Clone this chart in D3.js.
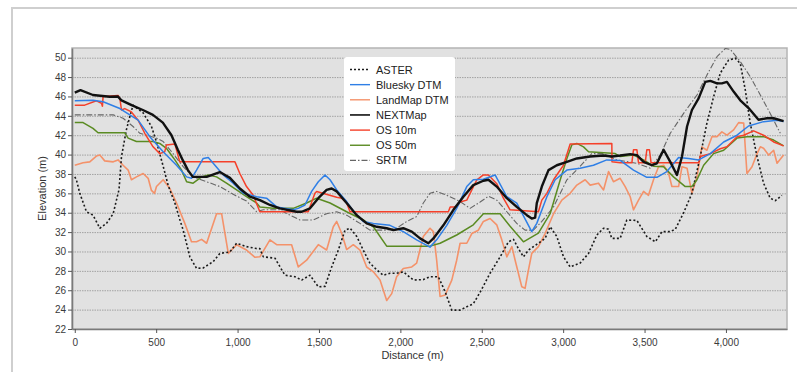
<!DOCTYPE html>
<html>
<head>
<meta charset="utf-8">
<script src="https://cdn.jsdelivr.net/npm/d3@7"></script>
<style>
  body { margin: 0; background: #fff; }
  svg { display: block; font-family: "Liberation Sans", Arial, sans-serif; }
</style>
</head>
<body>
<div id="chart"></div>
<script>
// elevation profiles, [distance m, elevation m]
const aster = [[0,37.7],[10,37.4],[31,36.0],[72,34.1],[112,33.75],[154,32.4],[195,32.9],[236,33.9],[256,35.3],[272,36.4],[287,39.8],[317,42.55],[338,43.9],[358,45.1],[420,44.3],[471,42.9],[502,41.3],[543,38.8],[574,36.8],[615,35.0],[645,33.3],[666,32.2],[707,29.45],[748,28.25],[789,28.3],[850,28.95],[891,29.8],[953,29.95],[994,30.85],[1055,30.5],[1117,30.3],[1137,30.3],[1158,29.45],[1230,29.3],[1291,27.55],[1352,27.4],[1394,27.05],[1445,27.55],[1496,26.35],[1537,26.4],[1578,28.4],[1619,30.15],[1660,32.2],[1691,32.4],[1732,31.55],[1772,30.15],[1813,28.8],[1855,28.1],[1895,27.55],[1936,27.75],[1977,27.75],[2018,27.9],[2080,27.05],[2141,27.1],[2182,27.4],[2233,27.4],[2275,25.85],[2316,23.95],[2367,23.95],[2408,24.3],[2448,24.6],[2490,25.8],[2551,27.75],[2613,29.45],[2664,31.0],[2695,31.25],[2725,30.3],[2756,29.45],[2787,30.15],[2848,30.85],[2889,31.35],[2920,32.55],[2961,31.55],[3002,29.45],[3043,28.4],[3104,28.8],[3156,29.8],[3207,31.7],[3248,32.4],[3279,32.3],[3299,31.35],[3350,31.35],[3391,33.25],[3453,33.2],[3514,31.55],[3566,31.0],[3607,32.05],[3658,32.05],[3689,32.3],[3740,34.0],[3791,36.0],[3842,39.8],[3883,43.25],[3924,45.95],[3965,48.4],[4016,49.75],[4057,49.95],[4088,49.4],[4119,46.65],[4149,43.25],[4191,39.8],[4231,37.05],[4272,35.5],[4303,35.25],[4344,35.8]];

const bluesky = [[0,45.56],[112,45.6],[174,45.45],[277,44.75],[389,43.55],[461,41.85],[543,40.3],[625,38.9],[687,37.7],[717,37.55],[748,38.4],[789,39.6],[820,39.7],[861,38.9],[912,37.9],[973,37.05],[1035,36.0],[1117,35.65],[1178,35.5],[1240,34.6],[1342,34.3],[1373,34.45],[1414,34.8],[1455,36.2],[1496,37.2],[1537,37.9],[1568,37.4],[1609,36.35],[1670,35.15],[1721,33.95],[1772,33.1],[1834,32.9],[1936,32.7],[2018,32.05],[2100,31.2],[2182,30.45],[2223,31.2],[2285,32.7],[2346,34.45],[2408,36.7],[2448,37.4],[2510,37.45],[2582,37.9],[2654,35.65],[2715,35.0],[2807,32.05],[2838,32.9],[2900,35.65],[2951,37.4],[3023,38.4],[3104,38.6],[3186,38.9],[3268,39.45],[3350,39.4],[3432,38.4],[3514,37.65],[3576,37.65],[3637,38.25],[3709,39.7],[3771,39.6],[3832,39.45],[3904,40.1],[3986,41.3],[4068,42.0],[4139,42.95],[4231,43.4],[4314,43.55],[4354,43.4]];

const landmap = [[0,38.9],[51,39.15],[92,39.25],[133,39.85],[154,39.95],[184,39.35],[236,39.25],[266,39.45],[297,38.9],[328,38.4],[348,37.4],[379,37.7],[420,38.05],[451,37.55],[471,36.3],[490,36.0],[502,36.7],[543,37.4],[584,36.5],[625,35.0],[676,32.9],[717,31.0],[748,31.0],[779,31.25],[810,30.85],[871,33.9],[902,33.9],[943,29.8],[994,30.7],[1055,30.15],[1107,29.4],[1137,29.45],[1199,31.2],[1240,30.7],[1332,30.7],[1373,28.4],[1424,29.1],[1496,30.7],[1547,30.15],[1588,32.55],[1609,33.1],[1640,31.85],[1670,30.2],[1711,30.7],[1752,30.15],[1793,28.4],[1834,27.9],[1875,27.05],[1916,24.95],[1947,25.65],[1977,27.4],[2018,28.25],[2070,28.4],[2100,28.8],[2141,31.55],[2182,32.4],[2203,32.05],[2223,29.1],[2244,25.35],[2275,25.5],[2316,27.05],[2346,29.1],[2367,30.85],[2408,30.85],[2439,31.85],[2479,32.2],[2510,33.1],[2551,33.4],[2592,32.75],[2623,31.2],[2654,29.45],[2685,30.5],[2705,29.1],[2725,27.75],[2746,26.35],[2766,26.2],[2787,28.1],[2807,29.8],[2848,30.5],[2889,31.85],[2941,33.9],[2992,35.3],[3043,36.0],[3084,36.85],[3135,37.4],[3166,36.85],[3217,37.05],[3248,36.35],[3279,38.25],[3309,37.2],[3350,37.55],[3381,36.7],[3412,35.65],[3432,34.3],[3463,35.3],[3494,36.2],[3524,35.8],[3555,37.4],[3586,38.75],[3617,38.9],[3648,38.05],[3668,36.7],[3709,36.7],[3730,38.75],[3761,38.6],[3791,36.0],[3822,37.7],[3852,40.8],[3883,40.45],[3914,41.85],[3945,41.85],[3975,42.35],[4006,42.0],[4047,42.55],[4078,43.3],[4109,43.25],[4129,38.05],[4160,38.75],[4191,40.1],[4211,40.8],[4231,40.65],[4262,39.95],[4293,40.45],[4314,39.1],[4354,39.95]];

const nextmap = [[0,46.4],[35,46.65],[112,46.15],[215,45.97],[264,46.0],[287,45.6],[349,45.1],[418,44.6],[480,44.1],[541,43.3],[594,42.0],[633,40.5],[664,39.4],[695,38.4],[725,37.7],[810,37.7],[891,38.2],[953,37.6],[1014,36.5],[1076,35.65],[1137,35.3],[1199,34.8],[1260,34.45],[1363,34.1],[1394,34.1],[1445,34.45],[1496,35.5],[1547,36.35],[1578,36.5],[1609,36.2],[1670,35.0],[1732,33.75],[1793,32.9],[1855,32.55],[1916,32.4],[1957,32.2],[2018,32.4],[2070,32.05],[2121,31.35],[2172,30.85],[2203,31.35],[2264,32.7],[2326,34.3],[2387,35.65],[2448,36.85],[2510,37.3],[2541,37.4],[2592,36.7],[2654,35.5],[2715,34.6],[2777,33.75],[2807,33.4],[2828,33.5],[2838,35.0],[2869,36.7],[2910,38.4],[2961,38.9],[3023,39.25],[3084,39.6],[3166,39.8],[3248,39.9],[3300,39.8],[3350,39.9],[3412,40.05],[3453,39.95],[3494,39.25],[3545,38.9],[3576,39.1],[3617,40.5],[3658,39.25],[3699,37.9],[3730,39.8],[3761,42.9],[3791,44.6],[3832,45.8],[3873,47.5],[3904,47.6],[3945,47.35],[3975,47.35],[4006,47.5],[4047,46.5],[4088,45.6],[4139,44.8],[4200,43.6],[4252,43.75],[4293,43.75],[4354,43.45]];

const os10 = [[0,45.1],[61,45.1],[133,45.55],[164,45.3],[170,45.0],[174,46.0],[266,46.1],[277,45.8],[287,44.6],[307,44.75],[348,44.4],[389,43.55],[430,42.2],[481,40.8],[522,40.1],[553,40.3],[563,41.0],[615,41.1],[645,39.25],[984,39.25],[1014,38.05],[1055,36.7],[1096,35.8],[1137,34.1],[1434,34.1],[1475,36.0],[1486,36.2],[1609,35.6],[1640,35.5],[1670,35.0],[1691,34.1],[2295,34.1],[2306,34.6],[2346,34.6],[2367,35.1],[2408,35.3],[2439,36.35],[2470,37.4],[2510,37.9],[2541,37.9],[2592,37.0],[2633,35.5],[2674,34.3],[2848,34.1],[2869,35.3],[2900,36.0],[2941,37.4],[3002,38.9],[3043,41.1],[3299,41.15],[3300,39.25],[3350,39.15],[3422,39.15],[3432,40.5],[3453,40.5],[3463,39.15],[3504,39.15],[3514,40.5],[3530,40.5],[3540,39.15],[3832,39.15],[3842,39.8],[3904,40.1],[3965,40.6],[4006,40.8],[4068,41.85],[4109,42.0],[4170,42.45],[4231,42.0],[4293,41.3],[4354,40.9]];

const os50 = [[0,43.3],[51,43.3],[112,42.7],[143,42.25],[307,42.25],[328,41.7],[379,41.35],[481,41.35],[522,41.15],[563,40.65],[615,39.45],[656,38.4],[687,37.2],[727,37.05],[779,37.7],[820,37.9],[871,37.7],[932,37.05],[994,36.35],[1055,35.65],[1117,35.0],[1137,34.6],[1219,34.45],[1342,34.45],[1424,35.0],[1486,35.5],[1568,35.0],[1670,34.1],[1772,33.25],[1834,32.55],[1916,30.55],[2182,30.55],[2244,30.85],[2346,31.7],[2448,32.75],[2510,33.9],[2613,33.9],[2674,32.6],[2756,31.0],[2848,31.9],[2920,33.9],[2982,37.4],[3023,39.6],[3053,41.0],[3084,41.15],[3125,40.8],[3156,40.3],[3320,40.1],[3350,39.8],[3432,39.95],[3494,39.45],[3555,38.8],[3617,38.75],[3678,37.7],[3750,36.7],[3791,36.7],[3822,37.4],[3863,38.9],[3924,40.1],[3986,40.45],[4068,41.7],[4129,41.85],[4231,41.85],[4293,41.5],[4354,40.9]];

const srtm = [[0,44.1],[236,44.1],[297,43.75],[358,42.9],[400,42.2],[441,42.0],[502,41.7],[543,41.35],[604,40.1],[666,38.75],[727,37.7],[810,37.2],[891,36.7],[973,35.9],[1055,35.2],[1117,34.1],[1158,34.3],[1260,34.3],[1322,33.75],[1383,33.25],[1465,33.25],[1547,33.9],[1609,34.1],[1670,33.75],[1752,32.9],[1813,32.2],[1916,32.2],[1977,32.4],[2039,33.1],[2100,33.6],[2141,35.0],[2182,36.0],[2223,36.2],[2285,35.8],[2367,35.15],[2428,34.45],[2490,35.1],[2541,35.7],[2592,35.3],[2654,34.1],[2715,32.9],[2766,32.2],[2817,32.2],[2869,33.1],[2941,34.6],[3023,37.4],[3094,38.6],[3176,40.1],[3248,40.1],[3330,39.45],[3453,39.1],[3535,38.6],[3596,39.95],[3658,42.2],[3740,44.25],[3822,46.15],[3883,48.2],[3945,50.1],[3996,50.95],[4027,50.85],[4088,49.6],[4149,48.05],[4211,46.15],[4272,44.25],[4334,42.2]];

const seriesNames = ["ASTER", "Bluesky DTM", "LandMap DTM", "NEXTMap", "OS 10m", "OS 50m", "SRTM"];
const xTicks = [0, 500, 1000, 1500, 2000, 2500, 3000, 3500, 4000];
const yTicks = [22, 24, 26, 28, 30, 32, 34, 36, 38, 40, 42, 44, 46, 48, 50];

const W = 797, H = 372;
const margin = { left: 72, right: 10, top: 48, bottom: 43 };
const pw = W - margin.left - margin.right, ph = H - margin.top - margin.bottom;

const styles = {
  "ASTER":       { data: aster,   color: "#1a1a1a", width: 1.6, dash: "2,2.2" },
  "Bluesky DTM": { data: bluesky, color: "#2f7fe6", width: 1.5, dash: null },
  "LandMap DTM": { data: landmap, color: "#f4926a", width: 1.6, dash: null },
  "NEXTMap":     { data: nextmap, color: "#111111", width: 2.4, dash: null },
  "OS 10m":      { data: os10,    color: "#f5402a", width: 1.5, dash: null },
  "OS 50m":      { data: os50,    color: "#5a8b22", width: 1.5, dash: null },
  "SRTM":        { data: srtm,    color: "#666666", width: 1.1, dash: "6,2,1.5,2" }
};
const drawOrder = ["LandMap DTM", "SRTM", "ASTER", "OS 50m", "OS 10m", "Bluesky DTM", "NEXTMap"];

const svg = d3.select("#chart").append("svg")
  .attr("width", W).attr("height", H);

// outer frame
svg.append("path")
  .attr("d", "M12,372 L12,8 L797,8")
  .attr("fill", "none").attr("stroke", "#cfcfcf").attr("stroke-width", 2);

const x = d3.scaleLinear().domain([-17, 4375]).range([0, pw]);
const y = d3.scaleLinear().domain([22, 51]).range([ph, 0]);

const g = svg.append("g").attr("transform", `translate(${margin.left},${margin.top})`);

g.append("rect").attr("width", pw).attr("height", ph)
  .attr("fill", "#e1e1e1").attr("stroke", "#b4b4b4").attr("stroke-width", 1.5);

// grid
g.selectAll(".grid").data(yTicks).enter().append("line")
  .attr("x1", 0).attr("x2", pw)
  .attr("y1", d => y(d) + 0.5).attr("y2", d => y(d) + 0.5)
  .attr("stroke", "#a3a3a3").attr("stroke-width", 1)
  .attr("stroke-dasharray", "1.5,1");

g.append("clipPath").attr("id", "clip").append("rect")
  .attr("width", pw).attr("height", ph);

const line = d3.line().x(d => x(d[0])).y(d => y(d[1]));

const lines = g.append("g").attr("clip-path", "url(#clip)");
drawOrder.forEach(name => {
  const s = styles[name];
  lines.append("path")
    .datum(s.data)
    .attr("d", line)
    .attr("fill", "none")
    .attr("stroke", s.color)
    .attr("stroke-width", s.width)
    .attr("stroke-linejoin", "round")
    .attr("stroke-dasharray", s.dash);
});

// axes
const xAxis = g.append("g").attr("transform", `translate(0,${ph})`)
  .call(d3.axisBottom(x).tickValues(xTicks).tickFormat(d3.format(",")).tickSize(4).tickSizeOuter(0));
const yAxis = g.append("g")
  .call(d3.axisLeft(y).tickValues(yTicks).tickSize(4).tickSizeOuter(0));

[xAxis, yAxis].forEach(a => {
  a.select(".domain").attr("stroke", "#7a7a7a").attr("stroke-width", 1.6);
  a.selectAll(".tick line").attr("stroke", "#555");
  a.selectAll(".tick text").attr("fill", "#3a3a3a")
    .style("font-size", "10px").style("font-family", "'Liberation Sans', Arial, sans-serif");
});
xAxis.selectAll(".tick text").attr("dy", "0.95em");
yAxis.selectAll(".tick text").attr("x", -6);

g.append("text")
  .attr("x", x(2075)).attr("y", ph + 30)
  .attr("text-anchor", "middle").attr("fill", "#333")
  .style("font-size", "11px").text("Distance (m)");

g.append("text")
  .attr("transform", `translate(-26,${ph / 2}) rotate(-90)`)
  .attr("text-anchor", "middle").attr("fill", "#333")
  .style("font-size", "11px").text("Elevation (m)");

// legend
const legend = svg.append("g").attr("transform", "translate(344,57)");
legend.append("rect").attr("width", 111).attr("height", 114).attr("rx", 3)
  .attr("fill", "#fff");
seriesNames.forEach((name, i) => {
  const s = styles[name];
  const row = legend.append("g").attr("transform", `translate(0,${12.5 + i * 15.15})`);
  row.append("line").attr("x1", 6).attr("x2", 26).attr("y1", 0).attr("y2", 0)
    .attr("stroke", s.color)
    .attr("stroke-width", name === "NEXTMap" ? 1.6 : (name === "SRTM" ? 1.2 : 1.4))
    .attr("stroke-dasharray", name === "ASTER" ? "2,2" : s.dash);
  row.append("text").attr("x", 32).attr("y", 4).attr("fill", "#222")
    .style("font-size", "11px").text(name);
});
</script>
</body>
</html>
